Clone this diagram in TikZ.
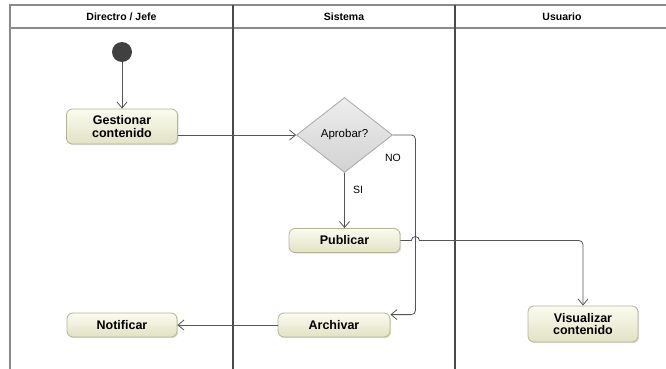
\documentclass[tikz,border=0pt]{standalone}
\usepackage{fontspec}
\setmainfont{Liberation Sans}
\usetikzlibrary{shapes.geometric, arrows.meta, shadows}

\definecolor{actTop}{HTML}{FBFBF0}
\definecolor{actBot}{HTML}{E2E2C4}
\definecolor{actLine}{HTML}{B4B494}
\definecolor{decTop}{HTML}{EDEDED}
\definecolor{decBot}{HTML}{D2D2D2}
\definecolor{decLine}{HTML}{A8A8A8}
\definecolor{flowLine}{HTML}{555555}
\definecolor{laneLine}{HTML}{8A8A8A}
\definecolor{laneDark}{HTML}{4A4A4A}

\begin{document}
\begin{tikzpicture}[
    x=1pt, y=1pt,
    act/.style={rectangle, draw=actLine, thick, top color=actTop, bottom color=actBot, rounded corners=6pt, minimum width=111pt, minimum height=24pt, inner sep=1pt, align=center, font=\fontsize{12.5}{12.5}\selectfont\bfseries, drop shadow={shadow xshift=1.2pt, shadow yshift=-1.2pt, opacity=0.25}},
    decision/.style={diamond, draw=decLine, thick, top color=decTop, bottom color=decBot, minimum width=96pt, minimum height=75pt, inner sep=0pt, font=\fontsize{11.5}{12}\selectfont},
    start/.style={circle, fill=black!75, minimum size=20pt, inner sep=0pt},
    lanehead/.style={font=\fontsize{10.5}{12}\selectfont\bfseries},
    guard/.style={font=\fontsize{10.5}{12}\selectfont},
    arrow/.style={draw=flowLine, line width=0.8pt, -{Straight Barb[length=6pt, width=10pt, line width=0.8pt]}}
]
\useasboundingbox (0,0) rectangle (666,-369);

% Swimlanes
\draw[laneLine, line width=1.5pt] (10,-369) -- (10,-5) -- (670,-5);
\draw[laneLine, line width=1.5pt] (10,-28) -- (670,-28);
\draw[laneDark, line width=2pt] (233,-5) -- (233,-369);
\draw[laneDark, line width=2pt] (455,-5) -- (455,-369);
\node[lanehead] (hjefe) at (121.5,-16.5) {Directro / Jefe};
\node[lanehead] (hsis) at (344,-16.5) {Sistema};
\node[lanehead] (husr) at (562,-16.5) {Usuario};

% Nodes
\node[start] (ini) at (122,-52) {};
\node[act, minimum height=35pt] (gest) at (122,-126.5) {Gestionar\\contenido};
\node[decision] (dia) at (344.5,-135) {Aprobar?};
\node[act] (pub) at (344.5,-240.5) {Publicar};
\node[act, minimum width=112pt] (arch) at (334,-325) {Archivar};
\node[act, minimum width=110pt] (notif) at (122,-325) {Notificar};
\node[act, minimum width=110pt, minimum height=36pt] (visu) at (583,-324) {Visualizar\\contenido};

% Guards
\node[guard] (gno) at (393,-158) {NO};
\node[guard] (gsi) at (358,-190) {SI};

% Arrows
\draw[arrow] (ini) -- (gest);
\draw[arrow] (gest.east |- dia.west) -- (dia.west);
\draw[arrow] (dia.south) -- (pub.north);
\draw[arrow, rounded corners=4pt] (dia.east) -| ([xshift=25pt, yshift=-2pt]arch.north east) -- ([yshift=-2pt]arch.north east);
\draw[arrow] (pub.east) -- ([xshift=11pt]pub.east) arc[start angle=180, end angle=0, radius=4pt] [rounded corners=4pt] -| (visu.north);
\draw[arrow] (arch) -- (notif);

\end{tikzpicture}
\end{document}
